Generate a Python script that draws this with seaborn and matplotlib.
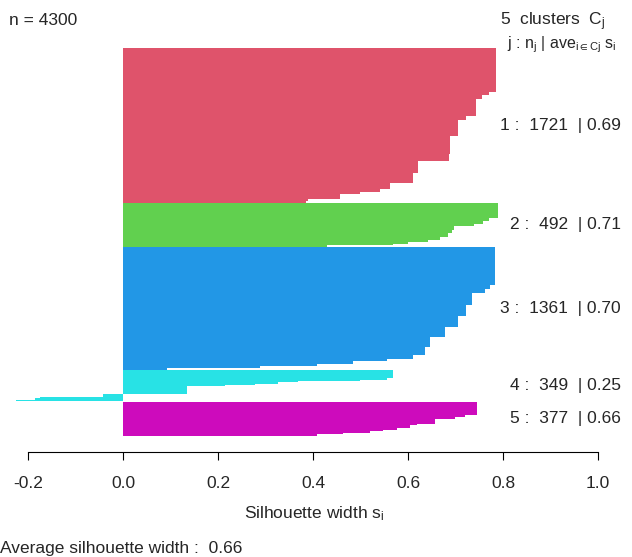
import numpy as np
import pandas as pd
import matplotlib
matplotlib.use("Agg")
import matplotlib.pyplot as plt
import seaborn as sns

# silhouette widths per cluster as (value, how many) steps,
# sorted from largest to smallest like R's plot.silhouette
c1_vals = [0.785, 0.771, 0.756, 0.743, 0.722, 0.706, 0.688, 0.686, 0.622, 0.610,
           0.562, 0.540, 0.499, 0.457, 0.390, 0.386]
c1_counts = [489, 37, 48, 184, 44, 184, 202, 74, 129, 118, 59, 37, 26, 48, 22, 20]

c2_vals = [0.790, 0.771, 0.757, 0.738, 0.696, 0.692, 0.685, 0.667, 0.643, 0.601, 0.569, 0.429]
c2_counts = [167, 38, 27, 31, 38, 38, 46, 31, 19, 19, 19, 19]

c3_vals = [0.783, 0.773, 0.762, 0.734, 0.723, 0.706, 0.678, 0.646, 0.636, 0.611,
           0.555, 0.485, 0.408, 0.288, 0.092]
c3_counts = [423, 45, 38, 131, 131, 120, 105, 120, 86, 38, 26, 38, 22, 19, 19]

c4_vals = [0.568, 0.555, 0.498, 0.369, 0.327, 0.278, 0.215, 0.135,
           -0.043, -0.175, -0.185, -0.225]
c4_counts = [86, 23, 15, 15, 15, 11, 15, 85, 34, 15, 22, 13]

c5_vals = [0.745, 0.720, 0.699, 0.657, 0.618, 0.604, 0.576, 0.548, 0.520, 0.464, 0.408]
c5_counts = [146, 22, 22, 60, 15, 30, 22, 15, 15, 15, 15]

cluster_ids = [1, 2, 3, 4, 5]
cluster_sizes = [1721, 492, 1361, 349, 377]
cluster_avg = ["0.69", "0.71", "0.70", "0.25", "0.66"]
n_total = 4300
overall_avg = "0.66"
colors = ["#DF536B", "#61D04F", "#2297E6", "#28E2E5", "#CD0BBC"]
x_ticks = [-0.2, 0.0, 0.2, 0.4, 0.6, 0.8, 1.0]

steps = [(c1_vals, c1_counts), (c2_vals, c2_counts), (c3_vals, c3_counts),
         (c4_vals, c4_counts), (c5_vals, c5_counts)]

# one row per observation, R leaves 2 empty bar slots between clusters
rows = []
pos = 0
mids = []
for cid, (vals, cnts) in zip(cluster_ids, steps):
    s = np.repeat(vals, cnts)
    p = pos + 1 + np.arange(len(s))
    mids.append((p[0] + p[-1]) / 2)
    rows.append(pd.DataFrame({"sil": s, "pos": p, "cluster": str(cid)}))
    pos = p[-1] + 2
df = pd.concat(rows, ignore_index=True)
n_slots = pos - 2

sns.set_style("white")
plt.rcParams["font.family"] = ["Liberation Sans", "DejaVu Sans"]
plt.rcParams["mathtext.fontset"] = "custom"
plt.rcParams["mathtext.rm"] = "Liberation Sans"
plt.rcParams["mathtext.it"] = "Liberation Sans:italic"

W, H = 632, 557
fig = plt.figure(figsize=(W / 100, H / 100), dpi=100)
# pixel mapping: s = 0 at x=123, s = 1 at x=598
x0, x1 = 123, 598
ppu = x1 - x0
top_px, bot_px = 47.5, 435.5
ax = fig.add_axes([0, (H - bot_px) / H, 1, (bot_px - top_px) / H])

sns.barplot(data=df, x="sil", y="pos", hue="cluster", palette=colors,
            orient="h", native_scale=True, width=1, errorbar=None, saturation=1,
            dodge=False, legend=False, linewidth=0, antialiased=False, ax=ax)

ax.set_xlim(-x0 / ppu, (W - x0) / ppu)
ax.set_ylim(n_slots + 0.5, 0.5)
ax.set_ylabel("")
ax.set_xlabel("")
ax.set_yticks([])
for sp in ["top", "left", "right"]:
    ax.spines[sp].set_visible(False)
ax.spines["bottom"].set_position(("outward", (452 - bot_px) * 0.72))
ax.spines["bottom"].set_bounds(x_ticks[0], x_ticks[-1])
ax.spines["bottom"].set_linewidth(0.8)
ax.spines["bottom"].set_color("black")
ax.set_xticks(x_ticks)
ax.set_xticklabels([f"{t:.1f}" for t in x_ticks])
ax.tick_params(axis="x", direction="out", length=5.8, width=0.8, color="black",
               pad=11.5, labelsize=12.5, bottom=True)
ax.patch.set_alpha(0)

fs = 12.5
lab_x = (621 - x0) / ppu
for cid, n, a, m in zip(cluster_ids, cluster_sizes, cluster_avg, mids):
    ax.text(lab_x, m, f"{cid} :  {n}  | {a}", ha="right", va="center", fontsize=fs)


def ftext(x, y, s, size=fs, **kw):
    fig.text(x / W, 1 - y / H, s, fontsize=size, va="baseline", **kw)


ftext(9, 25, f"n = {n_total}")
ftext(500, 25, r"5  clusters  $\mathregular{C_j}$")
ftext(507, 48, r"j : $\mathregular{n_j}$ | $\mathregular{ave_{i\in Cj}}$ $\mathregular{s_i}$",
      size=11.5)
ftext(314, 518, r"Silhouette width $\mathregular{s_i}$", ha="center")
ftext(0, 553, f"Average silhouette width :  {overall_avg}")

fig.savefig("out.png", dpi=100)
